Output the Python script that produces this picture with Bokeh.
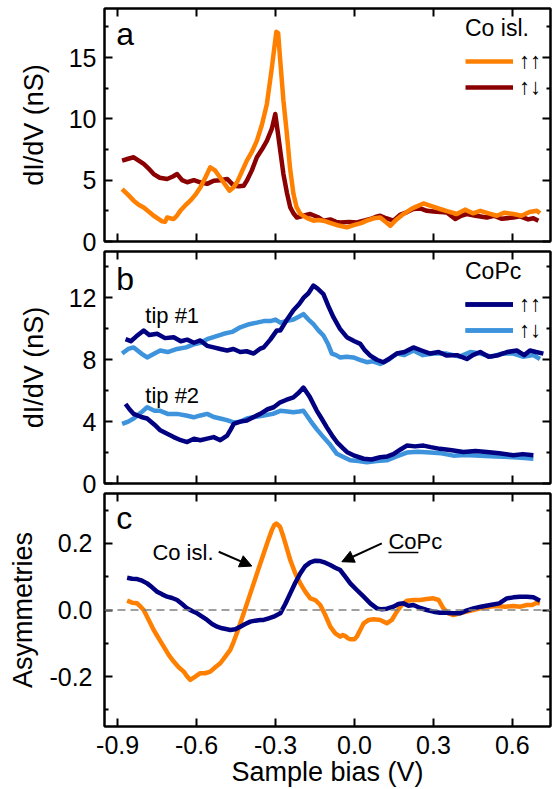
from bokeh.plotting import figure
from bokeh.layouts import column
from bokeh.models import (Range1d, LinearAxis, FixedTicker, PrintfTickFormatter,
                          CustomJSTickFormatter, Label, Span, Arrow, NormalHead,
                          Legend, LegendItem)
from bokeh.embed import file_html
from bokeh.resources import INLINE

FONT = "Liberation Sans"
ORANGE = "#FF8000"
DARKRED = "#8B0000"
NAVY = "#000080"
LIGHTBLUE = "#3D93DC"

# ---------------- data ----------------
bias_ticks = [-0.9, -0.6, -0.3, 0.0, 0.3, 0.6]

# panel a: Co island, parallel (up-up) and antiparallel (up-down)
a_pp_x = [-0.883, -0.86, -0.839, -0.82, -0.801, -0.78, -0.763, -0.745, -0.731, -0.72, -0.712, -0.70,
          -0.687, -0.675, -0.662, -0.645, -0.624, -0.605, -0.586, -0.567, -0.548, -0.53, -0.51, -0.49,
          -0.475, -0.46, -0.447, -0.43, -0.409, -0.39, -0.371, -0.352, -0.333, -0.315, -0.297, -0.29,
          -0.283, -0.27, -0.257, -0.245, -0.232, -0.22, -0.206, -0.18, -0.156, -0.137, -0.118, -0.09,
          -0.06, -0.029, 0.0, 0.025, 0.047, 0.075, 0.098, 0.118, 0.136, 0.16, 0.186, 0.22, 0.262, 0.29,
          0.325, 0.355, 0.389, 0.42, 0.45, 0.478, 0.51, 0.541, 0.57, 0.604, 0.635, 0.665, 0.693, 0.705]
a_pp_y = [4.28, 3.8, 3.33, 3.0, 2.78, 2.4, 2.1, 1.85, 1.64, 1.6, 1.96, 1.9,
          1.83, 2.1, 2.5, 2.9, 3.33, 3.8, 4.4, 5.2, 6.05, 5.8, 5.2, 4.6,
          4.15, 4.4, 4.8, 5.6, 6.6, 7.3, 8.2, 9.5, 11.2, 14.0, 17.1, 17.0,
          15.0, 11.5, 8.8, 6.0, 3.9, 2.8, 2.26, 1.9, 1.7, 1.75, 1.7, 1.5,
          1.3, 1.15, 1.35, 1.5, 1.7, 1.9, 1.96, 1.6, 1.28, 1.8, 2.24, 2.7, 3.1, 2.9,
          2.65, 2.45, 2.24, 2.6, 2.3, 2.5, 2.3, 2.1, 2.35, 2.24, 2.1, 2.4, 2.5, 2.3]

a_ap_x = [-0.883, -0.86, -0.839, -0.82, -0.801, -0.78, -0.763, -0.74, -0.712, -0.69, -0.674, -0.655,
          -0.636, -0.61, -0.586, -0.56, -0.535, -0.51, -0.484, -0.47, -0.459, -0.44, -0.421, -0.409,
          -0.39, -0.371, -0.352, -0.333, -0.314, -0.301, -0.292, -0.282, -0.270, -0.257, -0.244, -0.232,
          -0.219, -0.195, -0.168, -0.14, -0.118, -0.092, -0.07, -0.054, -0.02, 0.009, 0.035, 0.060,
          0.08, 0.098, 0.12, 0.148, 0.175, 0.2, 0.224, 0.25, 0.275, 0.3, 0.325, 0.351, 0.383, 0.405,
          0.427, 0.46, 0.503, 0.53, 0.56, 0.604, 0.63, 0.66, 0.68, 0.699]
a_ap_y = [6.6, 6.75, 6.87, 6.6, 6.33, 5.9, 5.5, 5.2, 5.1, 5.3, 5.5, 5.0,
          4.83, 5.0, 4.83, 4.7, 4.96, 5.0, 5.1, 4.8, 4.55, 4.5, 4.55, 4.96,
          5.8, 6.87, 7.5, 8.2, 9.2, 10.4, 9.0, 7.4, 5.5, 4.0, 2.78, 2.3,
          1.96, 2.1, 2.24, 2.0, 1.7, 1.8, 1.6, 1.55, 1.6, 1.55, 1.7, 1.83,
          2.0, 2.1, 1.9, 1.7, 2.2, 2.4, 2.65, 2.7, 2.5, 2.45, 2.4, 2.37, 1.83, 2.1,
          2.24, 2.1, 1.96, 2.1, 1.85, 1.96, 2.05, 1.8, 1.9, 1.7]

# panel b: CoPc, tip #1 and tip #2
b1_pp_x = [-0.870, -0.85, -0.83, -0.801, -0.78, -0.75, -0.72, -0.687, -0.66, -0.636, -0.61, -0.586,
           -0.56, -0.535, -0.51, -0.484, -0.46, -0.434, -0.41, -0.383, -0.36, -0.345, -0.32, -0.295,
           -0.282, -0.26, -0.232, -0.21, -0.194, -0.175, -0.156, -0.14, -0.118, -0.10, -0.080, -0.055,
           -0.029, 0.0, 0.022, 0.04, 0.060, 0.085, 0.110, 0.135, 0.161, 0.19, 0.224, 0.255, 0.288, 0.32,
           0.351, 0.39, 0.427, 0.45, 0.478, 0.51, 0.541, 0.58, 0.617, 0.645, 0.667, 0.69, 0.718]
b1_pp_y = [9.33, 9.2, 9.5, 9.89, 9.6, 9.68, 9.4, 9.46, 9.2, 9.3, 9.1, 9.25,
           8.9, 8.8, 8.7, 8.6, 8.7, 8.5, 8.55, 8.4, 8.7, 8.8, 9.3, 9.9,
           9.89, 10.5, 11.2, 11.6, 12.0, 12.3, 12.8, 12.6, 12.25, 11.5, 10.75, 10.0,
           9.46, 9.2, 9.03, 8.6, 8.27, 8.0, 7.84, 8.1, 8.4, 8.5, 8.8, 8.6, 8.4, 8.5,
           8.27, 8.3, 8.05, 8.3, 8.5, 8.2, 8.27, 8.5, 8.6, 8.3, 8.6, 8.5, 8.4]

b1_ap_x = [-0.883, -0.86, -0.839, -0.81, -0.788, -0.76, -0.738, -0.71, -0.674, -0.64, -0.611, -0.585,
           -0.560, -0.53, -0.497, -0.465, -0.434, -0.40, -0.371, -0.345, -0.320, -0.30, -0.282, -0.26,
           -0.232, -0.21, -0.194, -0.175, -0.156, -0.137, -0.118, -0.10, -0.086, -0.07, -0.054, -0.03,
           -0.004, 0.02, 0.047, 0.07, 0.098, 0.13, 0.161, 0.19, 0.224, 0.26, 0.30, 0.351, 0.40, 0.44,
           0.478, 0.52, 0.56, 0.604, 0.64, 0.68, 0.705]
b1_ap_y = [8.4, 8.7, 8.8, 8.4, 8.15, 8.4, 8.6, 8.5, 8.7, 8.8, 9.0, 9.1,
           9.33, 9.5, 9.68, 9.8, 10.1, 10.3, 10.4, 10.5, 10.5, 10.6, 10.4, 10.5,
           10.6, 10.8, 10.95, 10.6, 10.3, 9.9, 9.57, 9.0, 8.4, 8.3, 8.15, 8.2,
           8.15, 8.0, 7.84, 7.9, 7.73, 8.0, 8.4, 8.3, 8.6, 8.3, 8.4, 8.4, 8.2, 8.5,
           8.4, 8.2, 8.4, 8.4, 8.2, 8.3, 8.05]

b2_pp_x = [-0.870, -0.855, -0.839, -0.81, -0.788, -0.76, -0.738, -0.71, -0.687, -0.66, -0.636, -0.61,
           -0.586, -0.56, -0.535, -0.51, -0.484, -0.47, -0.459, -0.434, -0.409, -0.383, -0.358, -0.33,
           -0.307, -0.282, -0.26, -0.232, -0.21, -0.194, -0.17, -0.143, -0.125, -0.105, -0.085, -0.067,
           -0.045, -0.029, 0.0, 0.035, 0.065, 0.098, 0.125, 0.148, 0.175, 0.199, 0.23, 0.262, 0.29,
           0.325, 0.37, 0.414, 0.46, 0.503, 0.55, 0.604, 0.64, 0.680]
b2_pp_y = [5.14, 4.8, 4.5, 4.3, 4.2, 3.8, 3.44, 3.2, 3.0, 2.8, 2.68, 2.9,
           2.8, 2.9, 3.0, 2.8, 3.1, 3.5, 3.85, 4.0, 4.07, 4.3, 4.5, 4.8,
           4.93, 5.25, 5.4, 5.57, 5.9, 6.2, 5.6, 4.7, 4.2, 3.63, 3.1, 2.68,
           2.3, 2.04, 1.8, 1.6, 1.55, 1.7, 1.75, 1.9, 2.2, 2.45, 2.4, 2.45, 2.35,
           2.24, 2.15, 2.04, 2.1, 2.04, 1.95, 1.83, 1.9, 1.83]

b2_ap_x = [-0.883, -0.86, -0.839, -0.81, -0.788, -0.76, -0.738, -0.71, -0.674, -0.64, -0.611, -0.585,
           -0.560, -0.535, -0.510, -0.485, -0.459, -0.434, -0.409, -0.38, -0.345, -0.31, -0.282, -0.255,
           -0.232, -0.21, -0.194, -0.168, -0.143, -0.118, -0.092, -0.067, -0.04, -0.016, 0.015, 0.047,
           0.085, 0.123, 0.16, 0.199, 0.24, 0.288, 0.33, 0.376, 0.42, 0.478, 0.54, 0.604, 0.645, 0.680]
b2_ap_y = [3.85, 4.0, 4.2, 4.6, 4.93, 4.7, 4.7, 4.5, 4.5, 4.4, 4.28, 4.4,
           4.5, 4.3, 4.2, 4.1, 3.95, 4.0, 4.2, 4.3, 4.4, 4.5, 4.7, 4.65,
           4.6, 4.65, 4.7, 4.07, 3.5, 3.0, 2.5, 1.92, 1.7, 1.5, 1.45, 1.37,
           1.45, 1.5, 1.75, 2.0, 2.05, 2.0, 1.95, 1.8, 1.85, 1.8, 1.75, 1.7, 1.65, 1.6]

# panel c: asymmetries
c_co_x = [-0.864, -0.845, -0.826, -0.813, -0.801, -0.782, -0.763, -0.744, -0.725, -0.706, -0.687, -0.668,
          -0.649, -0.636, -0.624, -0.605, -0.586, -0.567, -0.548, -0.529, -0.510, -0.491, -0.472, -0.460,
          -0.447, -0.434, -0.421, -0.402, -0.383, -0.364, -0.345, -0.330, -0.314, -0.305, -0.297, -0.283,
          -0.270, -0.257, -0.244, -0.225, -0.206, -0.187, -0.168, -0.149, -0.130, -0.111, -0.092, -0.073,
          -0.054, -0.044, -0.035, -0.025, -0.016, 0.0, 0.009, 0.022, 0.035, 0.054, 0.073, 0.098, 0.123,
          0.142, 0.161, 0.18, 0.199, 0.225, 0.250, 0.275, 0.300, 0.32, 0.338, 0.357, 0.376, 0.40, 0.427,
          0.452, 0.478, 0.51, 0.541, 0.572, 0.604, 0.63, 0.655, 0.675, 0.693, 0.705]
c_co_y = [0.028, 0.022, 0.02, 0.01, 0.0, -0.03, -0.06, -0.085, -0.11, -0.135, -0.155, -0.172,
          -0.185, -0.2, -0.21, -0.2, -0.19, -0.19, -0.185, -0.172, -0.16, -0.14, -0.12, -0.097,
          -0.07, -0.04, -0.01, 0.035, 0.08, 0.125, 0.17, 0.205, 0.24, 0.255, 0.26, 0.25,
          0.22, 0.185, 0.15, 0.11, 0.08, 0.055, 0.035, 0.03, 0.015, -0.015, -0.05, -0.07,
          -0.08, -0.075, -0.078, -0.085, -0.088, -0.088, -0.08, -0.06, -0.04, -0.03, -0.028, -0.03, -0.04,
          -0.03, -0.005, 0.015, 0.028, 0.03, 0.03, 0.033, 0.035, 0.03, 0.005, -0.01, -0.015, -0.01, -0.005,
          0.0, 0.005, 0.01, 0.012, 0.01, 0.012, 0.01, 0.015, 0.015, 0.022, 0.02]

c_pc_x = [-0.864, -0.845, -0.826, -0.807, -0.788, -0.769, -0.750, -0.731, -0.712, -0.693, -0.674, -0.655,
          -0.636, -0.617, -0.598, -0.579, -0.560, -0.541, -0.522, -0.503, -0.484, -0.472, -0.453, -0.434,
          -0.415, -0.396, -0.377, -0.358, -0.345, -0.326, -0.307, -0.282, -0.263, -0.244, -0.225, -0.206,
          -0.187, -0.168, -0.149, -0.130, -0.111, -0.092, -0.073, -0.054, -0.035, -0.016, 0.009, 0.035,
          0.06, 0.085, 0.104, 0.123, 0.148, 0.167, 0.186, 0.205, 0.224, 0.25, 0.275, 0.300, 0.325, 0.35,
          0.375, 0.400, 0.425, 0.452, 0.48, 0.516, 0.55, 0.579, 0.604, 0.629, 0.655, 0.680, 0.705]
c_pc_y = [0.097, 0.094, 0.093, 0.088, 0.08, 0.068, 0.055, 0.047, 0.04, 0.036, 0.03, 0.018,
          0.005, -0.003, -0.01, -0.02, -0.03, -0.042, -0.05, -0.055, -0.058, -0.06, -0.058, -0.05,
          -0.042, -0.035, -0.032, -0.03, -0.03, -0.025, -0.02, -0.01, 0.018, 0.05, 0.082, 0.11,
          0.132, 0.143, 0.148, 0.147, 0.142, 0.135, 0.127, 0.12, 0.1, 0.08, 0.06, 0.04,
          0.02, 0.005, 0.002, 0.004, 0.01, 0.018, 0.02, 0.013, 0.015, 0.006, 0.0, -0.005, -0.008, -0.008,
          -0.01, -0.01, -0.002, 0.005, 0.01, 0.015, 0.02, 0.035, 0.038, 0.04, 0.04, 0.038, 0.028]

# ---------------- layout helpers ----------------
XR = Range1d(-0.95, 0.745)


def style_axis(ax, show_labels, tick_size="25px", standoff=8):
    ax.axis_line_color = "black"
    ax.axis_line_width = 2
    ax.major_tick_in = 8
    ax.major_tick_out = 0
    ax.minor_tick_in = 4
    ax.minor_tick_out = 0
    ax.major_tick_line_width = 2
    ax.minor_tick_line_width = 2
    ax.major_tick_line_color = "black"
    ax.minor_tick_line_color = "black"
    ax.major_label_text_font = FONT
    ax.major_label_text_color = "black"
    ax.axis_label_text_font = FONT
    ax.axis_label_text_font_style = "normal"
    ax.axis_label_text_color = "black"
    ax.axis_label_text_font_size = "27px"
    if show_labels:
        ax.major_label_text_font_size = tick_size
        ax.major_label_standoff = standoff
    else:
        ax.major_label_text_font_size = "0px"
        ax.major_label_standoff = 0


def make_panel(height, yr, yticks, yminor, yfmt, ylabel, btop, bbottom,
               ystand, ylabstand, bottom_labels=False, overlap=0):
    p = figure(width=556, height=height, x_range=XR, y_range=Range1d(*yr),
               output_backend="svg", toolbar_location=None,
               x_axis_location=None, y_axis_location=None,
               min_border_left=104, min_border_right=6,
               min_border_top=btop, min_border_bottom=bbottom)
    if overlap:
        p.margin = (-overlap, 0, 0, 0)
    p.grid.visible = False
    p.outline_line_color = "black"
    p.outline_line_width = 2
    p.background_fill_color = "white"
    p.border_fill_color = None

    xt = FixedTicker(ticks=bias_ticks, minor_ticks=[])
    yt = FixedTicker(ticks=yticks, minor_ticks=yminor)
    empty = CustomJSTickFormatter(code="return ''")

    left = LinearAxis(ticker=yt, formatter=PrintfTickFormatter(format=yfmt),
                      axis_label=ylabel)
    style_axis(left, True, standoff=ystand)
    left.axis_label_standoff = ylabstand
    p.add_layout(left, "left")

    right = LinearAxis(ticker=yt, formatter=empty)
    style_axis(right, False)
    p.add_layout(right, "right")

    top = LinearAxis(ticker=xt, formatter=empty)
    style_axis(top, False)
    p.add_layout(top, "above")

    if bottom_labels:
        bottom = LinearAxis(ticker=xt, formatter=PrintfTickFormatter(format="%.1f"),
                            axis_label="Sample bias (V)")
        style_axis(bottom, True, standoff=9)
        bottom.axis_label_standoff = 0
    else:
        bottom = LinearAxis(ticker=xt, formatter=empty)
        style_axis(bottom, False)
    p.add_layout(bottom, "below")
    return p


def style_legend(lg):
    lg.location = "top_right"
    lg.margin = 0
    lg.padding = 7
    lg.border_line_alpha = 0
    lg.background_fill_alpha = 0
    lg.title_text_font = FONT
    lg.title_text_font_size = "23px"
    lg.title_text_font_style = "normal"
    lg.title_text_color = "black"
    lg.title_standoff = 6
    lg.label_text_font = FONT
    lg.label_text_font_size = "22px"
    lg.label_text_color = "black"
    lg.glyph_width = 48
    lg.glyph_height = 20
    lg.label_height = 20
    lg.label_width = 24
    lg.label_standoff = 6
    lg.spacing = -1


def note(p, x, y, txt, size="22px"):
    p.add_layout(Label(x=x, y=y, text=txt, text_font=FONT, text_font_size=size,
                       text_color="black", text_baseline="middle"))


LW = 4.5

# ---------------- panel a ----------------
pa = make_panel(261, (0, 19), [0, 5, 10, 15], [2.5, 7.5, 12.5, 17.5], "%d",
                "dI/dV (nS)", 8, 20, 8, 17)
ra_ap = pa.line(a_ap_x, a_ap_y, line_color=DARKRED, line_width=LW, line_join="round")
ra_pp = pa.line(a_pp_x, a_pp_y, line_color=ORANGE, line_width=LW, line_join="round")
lga = Legend(items=[LegendItem(label="↑↑", renderers=[ra_pp]),
                    LegendItem(label="↑↓", renderers=[ra_ap])], title="Co isl.")
style_legend(lga)
pa.add_layout(lga)
note(pa, -0.905, 16.9, "a", "32px")

# ---------------- panel b ----------------
pb = make_panel(262, (0, 15), [0, 4, 8, 12], [2, 6, 10, 14], "%d",
                "dI/dV (nS)", 10, 20, 8, 17, overlap=20)
rb1_ap = pb.line(b1_ap_x, b1_ap_y, line_color=LIGHTBLUE, line_width=LW, line_join="round")
rb2_ap = pb.line(b2_ap_x, b2_ap_y, line_color=LIGHTBLUE, line_width=LW, line_join="round")
rb1_pp = pb.line(b1_pp_x, b1_pp_y, line_color=NAVY, line_width=LW, line_join="round")
rb2_pp = pb.line(b2_pp_x, b2_pp_y, line_color=NAVY, line_width=LW, line_join="round")
lgb = Legend(items=[LegendItem(label="↑↑", renderers=[rb1_pp, rb2_pp]),
                    LegendItem(label="↑↓", renderers=[rb1_ap, rb2_ap])], title="CoPc")
style_legend(lgb)
pb.add_layout(lgb)
note(pb, -0.905, 13.25, "b", "32px")
note(pb, -0.795, 10.86, "tip #1")
note(pb, -0.795, 5.7, "tip #2")

# ---------------- panel c ----------------
pc = make_panel(306, (-0.35, 0.35), [-0.2, 0.0, 0.2], [-0.3, -0.1, 0.1, 0.3], "%.1f",
                "Asymmetries", 10, 62, 12, 8, bottom_labels=True, overlap=20)
pc.add_layout(Span(location=0, dimension="width", line_color="#808080",
                   line_dash="8 5", line_width=1.5))
pc.line(c_co_x, c_co_y, line_color=ORANGE, line_width=LW, line_join="round")
pc.line(c_pc_x, c_pc_y, line_color=NAVY, line_width=LW, line_join="round")
note(pc, -0.905, 0.275, "c", "32px")

note(pc, -0.768, 0.172, "Co isl.")
pc.add_layout(Arrow(end=NormalHead(size=12, fill_color="black", line_color="black"),
                    x_start=-0.516, y_start=0.175, x_end=-0.39, y_end=0.132,
                    line_color="black", line_width=2))
note(pc, 0.129, 0.205, "CoPc")
pc.add_layout(Arrow(start=None, end=None, x_start=0.129, y_start=0.173, x_end=0.243, y_end=0.173,
                    line_color="black", line_width=1.5))
pc.add_layout(Arrow(end=NormalHead(size=12, fill_color="black", line_color="black"),
                    x_start=0.104, y_start=0.2, x_end=-0.048, y_end=0.145,
                    line_color="black", line_width=2))

layout = column(pa, pb, pc, spacing=0)
open("out.html", "w").write(file_html(layout, INLINE))
